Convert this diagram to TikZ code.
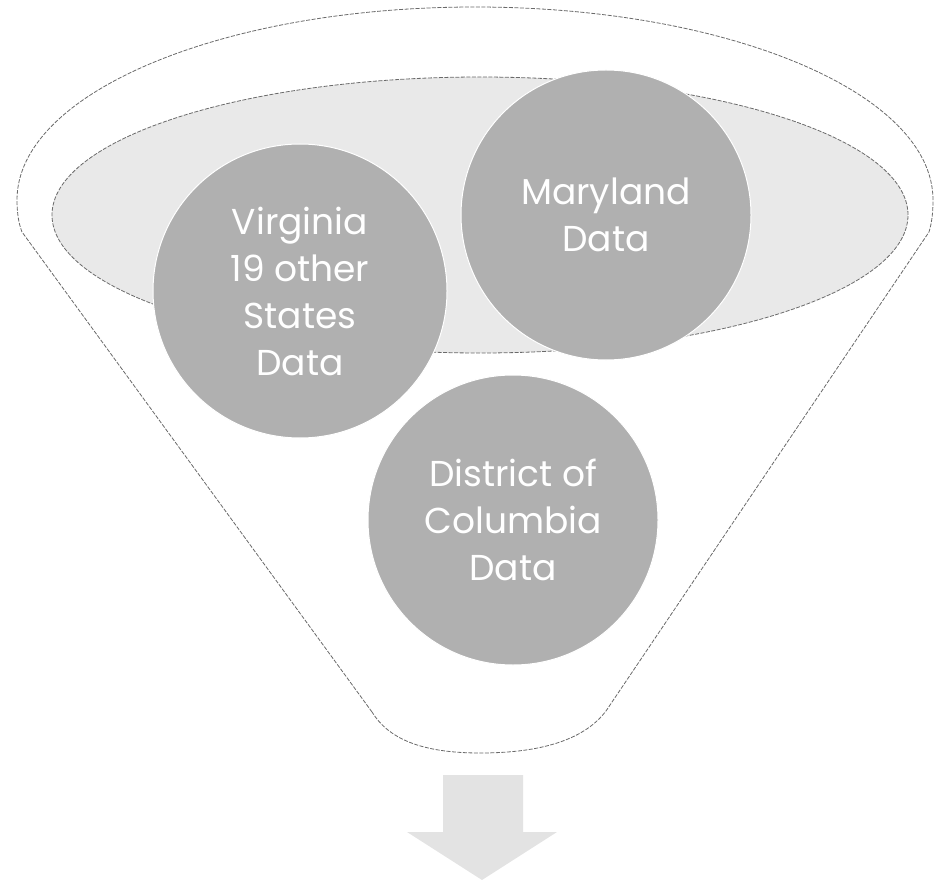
\documentclass[tikz,border=0pt]{standalone}
\usepackage{fontspec}
\setmainfont{Poppins}
\definecolor{circfill}{HTML}{B0B0B0}
\definecolor{ellfill}{HTML}{E9E9E9}
\definecolor{arrfill}{HTML}{E3E3E3}
\definecolor{edgegray}{HTML}{6A6A6A}
\tikzset{
  outline/.style={draw=edgegray, line width=0.8pt, dash pattern=on 4pt off 1.5pt},
  datacircle/.style={circle, fill=circfill, draw=white, line width=1pt, text=white,
    align=center, inner sep=0pt, font=\fontsize{36}{47}\selectfont},
}
\begin{document}
\begin{tikzpicture}[x=1pt,y=-1pt]
\useasboundingbox (0,0) rectangle (936,882);
% outer funnel
\draw[outline, fill=white]
  (372,712) -- (22,232)
  .. controls (18,222) and (17,210) .. (17,200)
  .. controls (17,93) and (222,7) .. (475,7)
  .. controls (728,7) and (933,93) .. (933,200)
  .. controls (933,212) and (932,222) .. (929,232)
  -- (610,705)
  .. controls (590,738) and (545,753) .. (480,753)
  .. controls (420,753) and (388,738) .. (372,712);
% inner ellipse
\draw[outline, fill=ellfill] (480,215) ellipse[x radius=428pt, y radius=138pt];
% circles
\node[datacircle, minimum size=294pt] (va) at (300,291) {Virginia\\19 other\\States\\Data};
\node[datacircle, minimum size=290pt] (md) at (606,215) {Maryland\\Data};
\node[datacircle, minimum size=290pt] (dc) at (513,520) {District of\\Columbia\\Data};
% arrow
\fill[arrfill] (443,775) -- (523,775) -- (523,832) -- (557,832) -- (482,880)
  -- (407,832) -- (443,832) -- cycle;
\end{tikzpicture}
\end{document}
